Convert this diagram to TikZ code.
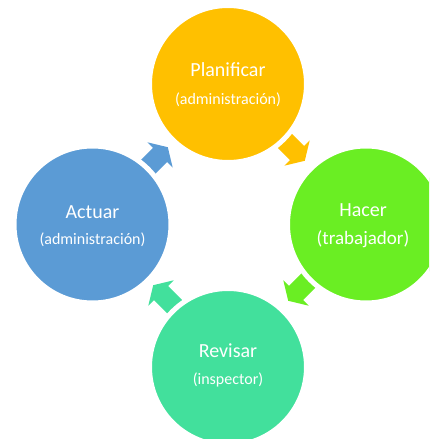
\documentclass[tikz,border=0pt]{standalone}
\usepackage{fontspec}
\setmainfont{Carlito}
\definecolor{cgold}{HTML}{FFC000}
\definecolor{cblue}{HTML}{5B9BD5}
\definecolor{cgreen}{HTML}{6AEE23}
\definecolor{cteal}{HTML}{42E09C}
\begin{document}
\begin{tikzpicture}[x=1pt,y=1pt,
  stage/.style={circle,minimum size=157pt,inner sep=0pt,draw=white,line width=5pt},
  ttl/.style={text=white,font=\fontsize{20}{24}\selectfont,anchor=base},
  sub/.style={text=white,font=\fontsize{16}{19}\selectfont,anchor=base},
]
\useasboundingbox (0,0) rectangle (429,439);
\clip (0,0) rectangle (429,439);
% arrows
\newcommand{\blockarrow}[3]{%
  \fill[#3,shift={#1},rotate=#2] (-24,-10) -- (0,-10) -- (0,-18) -- (11,0) -- (0,18) -- (0,10) -- (-24,10) -- cycle;}
\coordinate (a1) at (297,286);
\coordinate (a2) at (296,146);
\coordinate (a3) at (161,146);
\coordinate (a4) at (160,284);
\blockarrow{(a1)}{-45}{cgold}
\blockarrow{(a2)}{-135}{cgreen}
\blockarrow{(a3)}{135}{cteal}
\blockarrow{(a4)}{45}{cblue}
% circles
\node[stage,fill=cgold] (plan) at (228,355) {};
\node[stage,fill=cgreen] (hacer) at (366,214.5) {};
\node[stage,fill=cteal] (rev) at (228,72) {};
\node[stage,fill=cblue] (act) at (92.5,214.5) {};
% texts
\node[ttl] (t1) at (228,362) {Planificar};
\node[sub] (s1) at (228,334.5) {(administración)};
\node[ttl] (t2) at (363,222.3) {Hacer};
\node[sub,font=\fontsize{19}{22}\selectfont] (s2) at (363,194) {(trabajador)};
\node[ttl] (t3) at (228,81.7) {Revisar};
\node[sub] (s3) at (228,54) {(inspector)};
\node[ttl] (t4) at (92.5,220.7) {Actuar};
\node[sub] (s4) at (92.5,194.5) {(administración)};
\end{tikzpicture}
\end{document}
